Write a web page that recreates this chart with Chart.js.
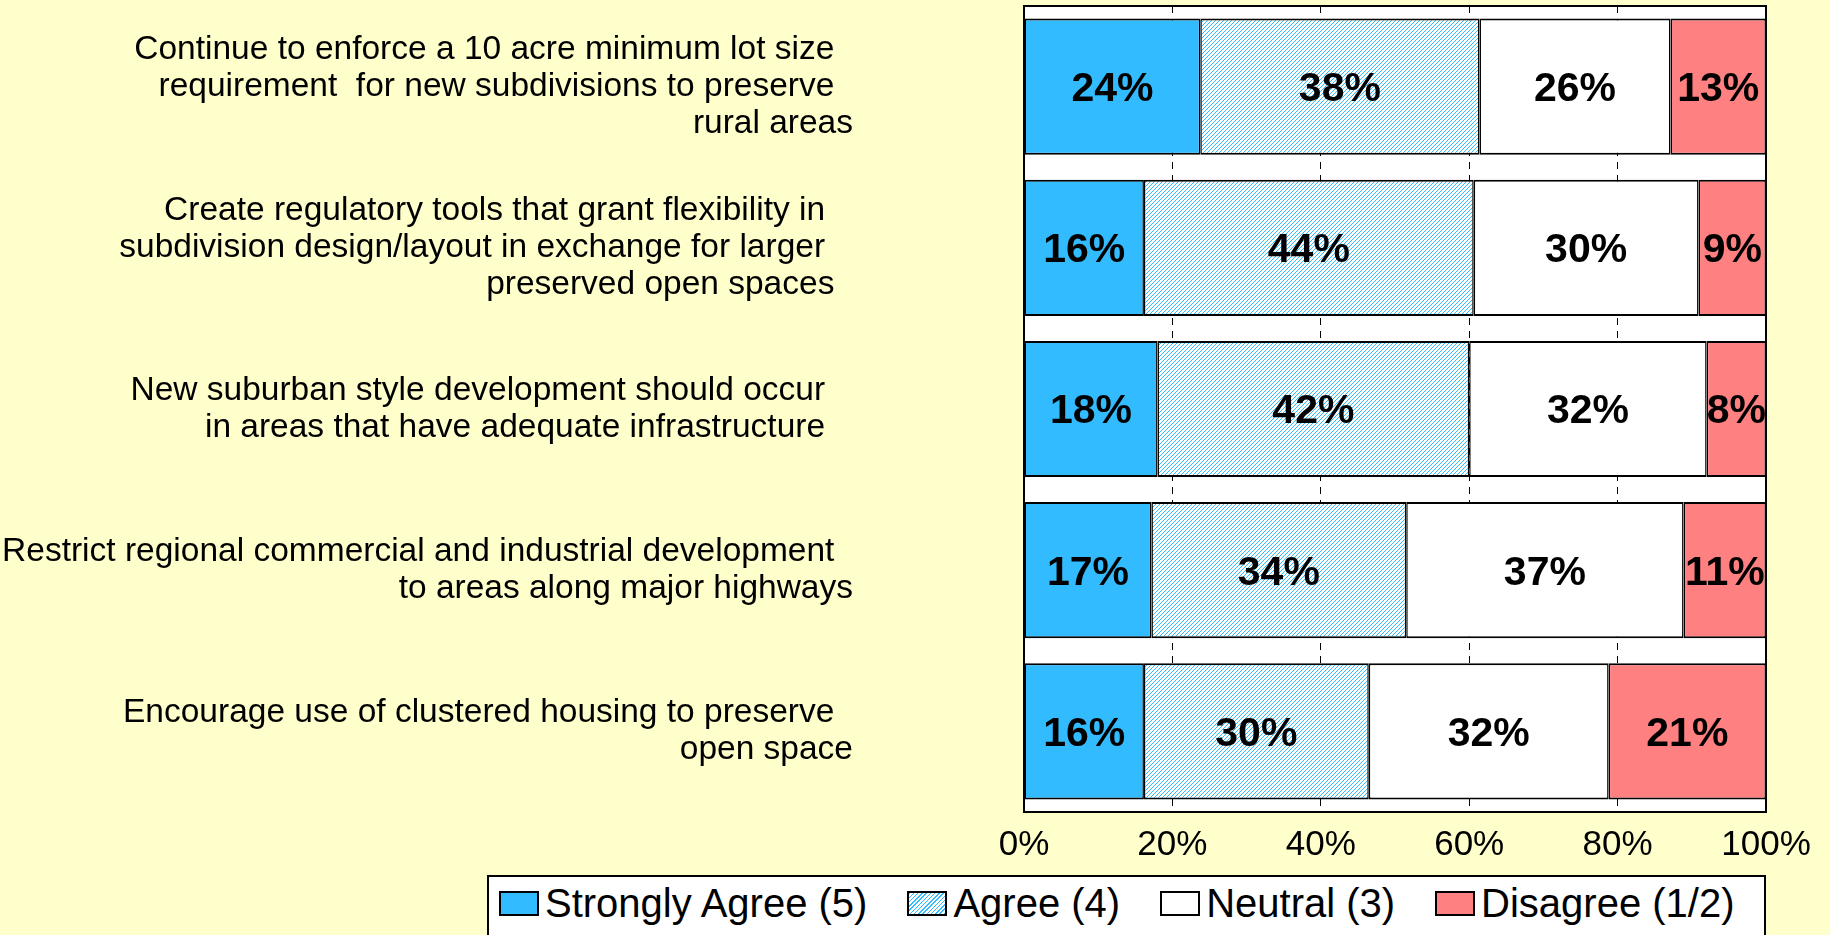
<!DOCTYPE html>
<html>
<head>
<meta charset="utf-8">
<script src="https://cdn.jsdelivr.net/npm/chart.js@4/dist/chart.umd.min.js"></script>
<style>
  html, body { margin: 0; padding: 0; background: #ffffcc; overflow: hidden; }
  #wrap { position: absolute; left: 0; top: 0; width: 1830px; height: 935px; }
  #legend {
    position: absolute; left: 487px; top: 875px; width: 1279px; height: 64px;
    box-sizing: border-box; border: 2px solid #000; background: #fff;
    display: flex; align-items: center; padding-left: 10px; padding-bottom: 8px;
    font-family: "Liberation Sans", Arial, sans-serif; font-size: 40px; color: #000;
    white-space: nowrap;
  }
  .item { display: flex; align-items: center; margin-right: 40px; flex-shrink: 0; }
  .box { width: 40px; height: 25px; box-sizing: border-box; border: 2px solid #000; margin-right: 6px; flex-shrink: 0; }
</style>
</head>
<body>
<div id="wrap"><canvas id="chart"></canvas></div>
<div id="legend"></div>
<script>
const categories = [
  ['Continue to enforce a 10 acre minimum lot size  ', 'requirement  for new subdivisions to preserve  ', 'rural areas'],
  ['Create regulatory tools that grant flexibility in   ', 'subdivision design/layout in exchange for larger   ', 'preserved open spaces  '],
  ['New suburban style development should occur   ', 'in areas that have adequate infrastructure   '],
  ['Restrict regional commercial and industrial development  ', 'to areas along major highways'],
  ['Encourage use of clustered housing to preserve  ', 'open space']
];
const seriesNames = ['Strongly Agree (5)', 'Agree (4)', 'Neutral (3)', 'Disagree (1/2)'];
const stronglyAgree = [24, 16, 18, 17, 16];
const agree = [38, 44, 42, 34, 30];
const neutral = [26, 30, 32, 37, 32];
const disagree = [13, 9, 8, 11, 21];
const xTicks = [0, 20, 40, 60, 80, 100];

const FONT = '"Liberation Sans", Arial, sans-serif';
const BLUE = '#33bbff';

function hatch() {
  const c = document.createElement('canvas');
  c.width = 4; c.height = 4;
  const g = c.getContext('2d');
  g.fillStyle = '#fff';
  g.fillRect(0, 0, 4, 4);
  g.strokeStyle = BLUE;
  g.lineWidth = 1;
  g.beginPath();
  g.moveTo(0, 4); g.lineTo(4, 0);
  g.moveTo(-1, 1); g.lineTo(1, -1);
  g.moveTo(3, 5); g.lineTo(5, 3);
  g.stroke();
  return g.createPattern(c, 'repeat');
}

const raw = [stronglyAgree, agree, neutral, disagree];
const totals = categories.map((_, i) => raw.reduce((s, arr) => s + arr[i], 0));
const fills = [BLUE, hatch(), '#ffffff', '#ff8080'];
const legendFills = [BLUE, 'repeating-linear-gradient(135deg, #33bbff 0 1px, #fff 1px 3px)', '#ffffff', '#ff8080'];

const datasets = raw.map((arr, k) => ({
  label: seriesNames[k],
  data: arr.map((v, i) => v / totals[i] * 100),
  backgroundColor: fills[k],
  borderColor: '#000',
  borderWidth: { top: 2, bottom: 2, left: 1.5, right: 1.5 },
  borderSkipped: false,
  barPercentage: 0.845,
  categoryPercentage: 1
}));

const plotFrame = {
  id: 'plotFrame',
  beforeDraw(chart) {
    const { ctx, chartArea: a } = chart;
    ctx.save();
    ctx.fillStyle = '#fff';
    ctx.fillRect(a.left, a.top, a.right - a.left, a.bottom - a.top);
    ctx.restore();
  },
  afterDatasetsDraw(chart) {
    const { ctx, chartArea: a } = chart;
    ctx.save();
    ctx.font = 'bold 41px ' + FONT;
    ctx.fillStyle = '#000';
    ctx.textAlign = 'center';
    ctx.textBaseline = 'middle';
    chart.data.datasets.forEach((ds, k) => {
      chart.getDatasetMeta(k).data.forEach((bar, i) => {
        const p = bar.getProps(['x', 'y', 'base'], true);
        ctx.fillText(raw[k][i] + '%', (p.x + p.base) / 2, p.y + 3);
      });
    });
    ctx.strokeStyle = '#000';
    ctx.lineWidth = 2;
    ctx.strokeRect(a.left, a.top, a.right - a.left, a.bottom - a.top);
    ctx.restore();
  }
};

new Chart(document.getElementById('chart'), {
  type: 'bar',
  data: { labels: categories, datasets: datasets },
  options: {
    indexAxis: 'y',
    responsive: true,
    maintainAspectRatio: false,
    animation: false,
    layout: { padding: { top: 6, right: 64, bottom: 0, left: 0 } },
    plugins: { legend: { display: false }, tooltip: { enabled: false } },
    scales: {
      x: {
        stacked: true,
        min: 0,
        max: 100,
        afterBuildTicks(scale) { scale.ticks = xTicks.map(v => ({ value: v })); },
        afterFit(scale) {
          scale.height = 123;
          scale.paddingLeft = 0; scale.paddingRight = 0;
        },
        ticks: {
          padding: 12,
          color: '#000',
          font: { family: FONT, size: 35 },
          callback: v => v + '%',
          maxRotation: 0
        },
        grid: { color: '#000', lineWidth: 1, drawTicks: false },
        border: { display: false, dash: [7, 6] }
      },
      y: {
        stacked: true,
        afterFit(scale) {
          scale.width = 1024;
          scale.paddingTop = 0; scale.paddingBottom = 0;
        },
        ticks: {
          padding: 2,
          autoSkip: false,
          color: '#000',
          font: { family: FONT, size: 33.5, lineHeight: 1.11 }
        },
        grid: { display: false, drawTicks: true, tickLength: 169 },
        border: { display: false }
      }
    }
  },
  plugins: [plotFrame]
});

const legend = document.getElementById('legend');
seriesNames.forEach((name, k) => {
  const item = document.createElement('div');
  item.className = 'item';
  const box = document.createElement('span');
  box.className = 'box';
  box.style.background = legendFills[k];
  const txt = document.createElement('span');
  txt.textContent = name;
  item.appendChild(box);
  item.appendChild(txt);
  legend.appendChild(item);
});
</script>
</body>
</html>
